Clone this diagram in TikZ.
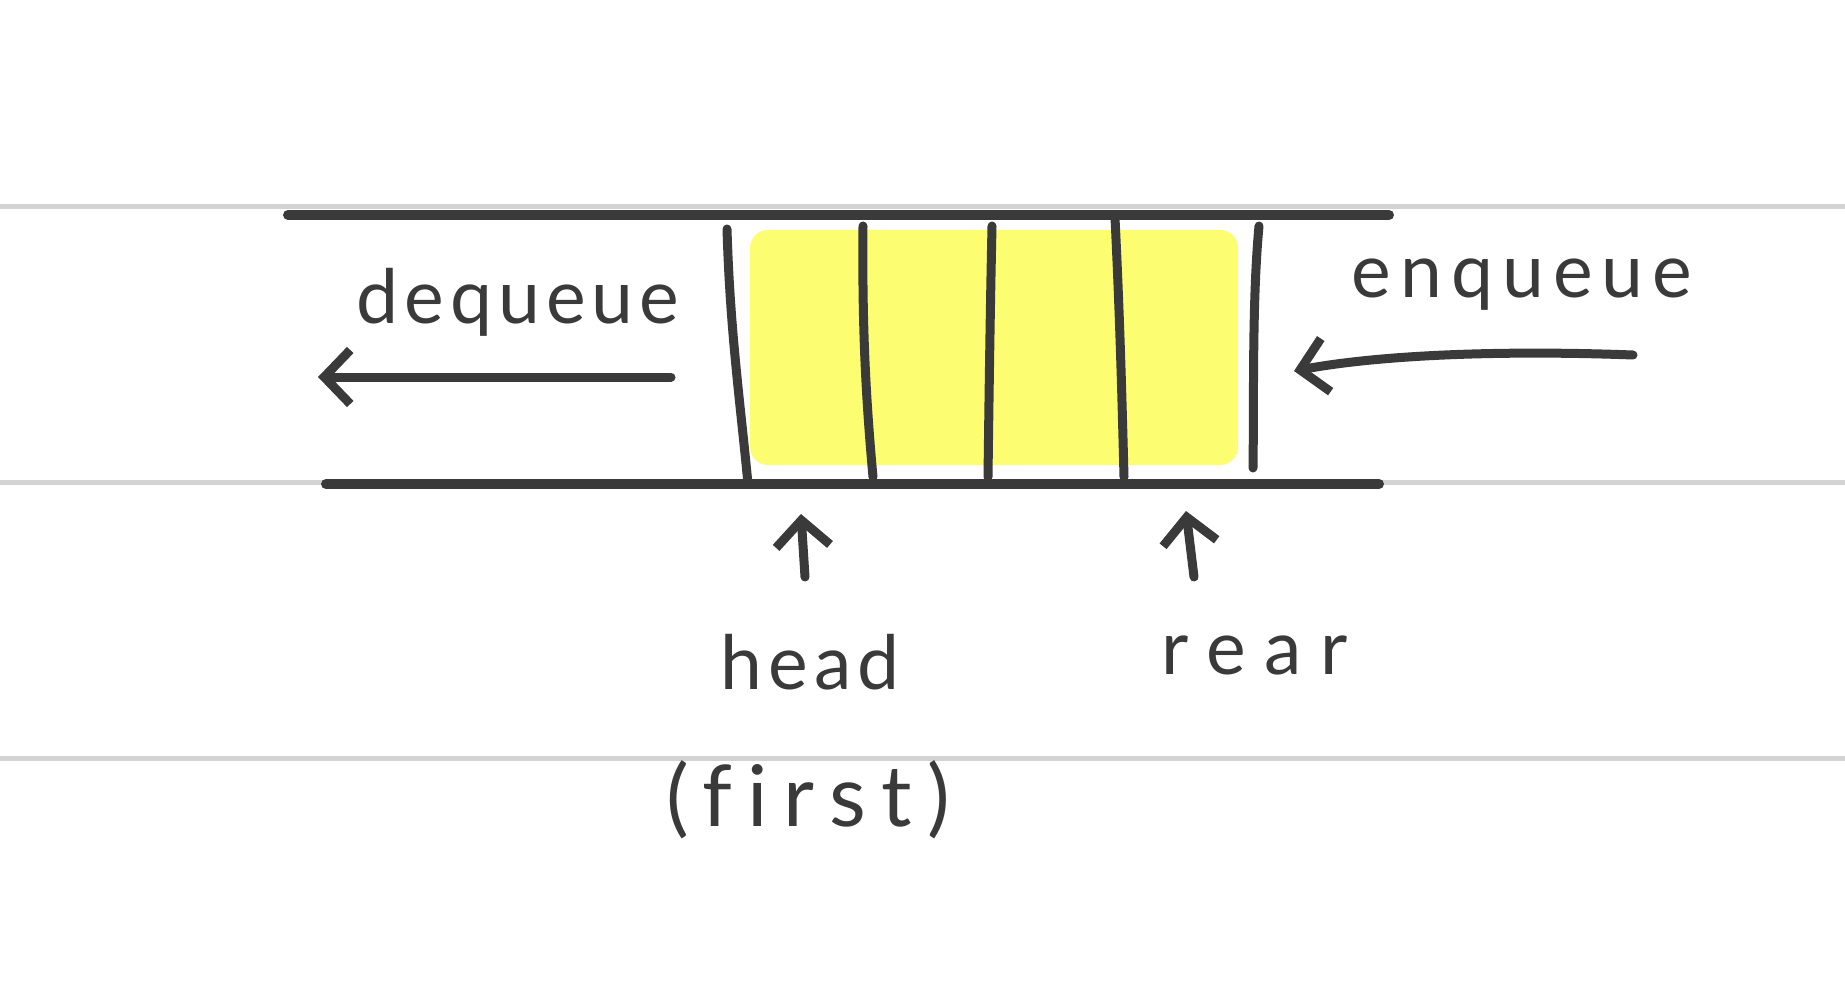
\documentclass[tikz,border=0pt]{standalone}
\usepackage{fontspec}
\setmainfont[Ligatures=NoCommon]{Lato}
\usetikzlibrary{arrows.meta}
\definecolor{ink}{HTML}{3A3A3A}
\definecolor{rule}{HTML}{D3D3D3}
\definecolor{hl}{HTML}{FDFD72}
\tikzset{
  ruleline/.style={draw=rule, line width=5pt},
  bar/.style={draw=ink, line width=10pt, line cap=round},
  divider/.style={draw=ink, line width=9pt, line cap=round},
  arrowline/.style={draw=ink, line width=9pt, line cap=round, line join=round, -{Straight Barb[length=26pt,width=54pt,line width=9pt]}},
  label/.style={text=ink, inner sep=0pt}
}
\newcommand{\hand}[2]{\fontsize{#1}{#1}\selectfont\addfontfeature{LetterSpace=#2}}
\begin{document}
\begin{tikzpicture}[x=1pt,y=-1pt]
\fill[white] (0,0) rectangle (1845,1000);
\useasboundingbox (0,0) rectangle (1845,1000);
% ruled lines
\draw[ruleline] (0,207) -- (1845,207);
\draw[ruleline] (0,482) -- (1845,482);
\draw[ruleline] (0,758) -- (1845,758);
% yellow highlight
\fill[hl, rounded corners=18pt] (750,230) rectangle (1238,465);
% bars
\draw[bar] (288,215) -- (1389,215);
\draw[bar] (326,484) -- (1379,484);
% dividers
\coordinate (d1t) at (727,229); \coordinate (d1b) at (748,484);
\coordinate (d2t) at (863,226); \coordinate (d2b) at (873,477);
\coordinate (d3t) at (992,226); \coordinate (d3b) at (988,477);
\coordinate (d4t) at (1115,218); \coordinate (d4b) at (1124,477);
\coordinate (d5t) at (1259,226); \coordinate (d5b) at (1253,468);
\draw[divider] (d1t) .. controls (730,330) and (740,400) .. (d1b);
\draw[divider] (d2t) .. controls (862,330) and (866,400) .. (d2b);
\draw[divider] (d3t) .. controls (990,320) and (989,400) .. (d3b);
\draw[divider] (d4t) .. controls (1120,320) and (1122,400) .. (d4b);
\draw[divider] (d5t) .. controls (1252,300) and (1254,400) .. (d5b);
% texts
\node[label, font=\hand{75}{8}] (deq) at (518,302) {dequeue};
\node[label, font=\hand{75}{12}] (enq) at (1522,285) {enqueue};
\node[label, font=\hand{75}{8}] (head) at (810,662) {head};
\node[label, font=\hand{85}{18}] (first) at (808,800) {(first)};
\node[label, font=\hand{75}{25}] (rear) at (1255,655) {rear};
% arrows
\coordinate (deqS) at (671,377); \coordinate (deqE) at (318,377);
\coordinate (enqS) at (1633,355); \coordinate (enqE) at (1294,371);
\coordinate (headS) at (805,577); \coordinate (headE) at (801,514);
\coordinate (rearS) at (1194,577); \coordinate (rearE) at (1186,511);
\draw[arrowline] (deqS) -- (deqE);
\draw[arrowline] (enqS) .. controls (1500,350) and (1380,355) .. (enqE);
\draw[arrowline] (headS) -- (headE);
\draw[arrowline] (rearS) -- (rearE);
\end{tikzpicture}
\end{document}
